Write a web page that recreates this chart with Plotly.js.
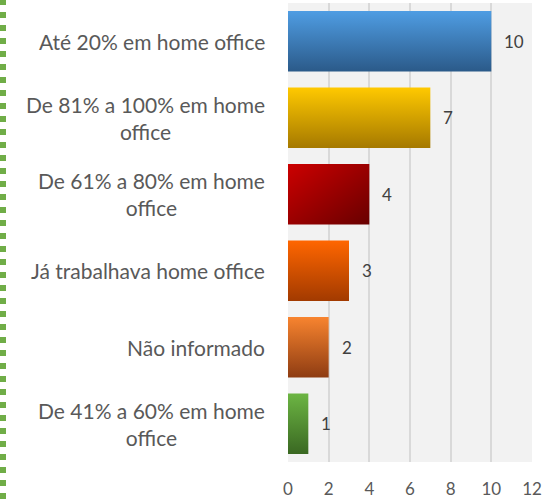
<!DOCTYPE html>
<html><head><meta charset="utf-8">
<script src="https://cdn.plot.ly/plotly-3.0.1.min.js"></script>
<style>html,body{margin:0;padding:0;background:#fff;}#chart{width:542px;height:499px;}</style>
</head><body>
<div id="chart"></div>
<script>
var categories = ["Até 20% em home office", "De 81% a 100% em home<br>office", "De 61% a 80% em home<br>office", "Já trabalhava home office", "Não informado", "De 41% a 60% em home<br>office"];
var values = [10, 7, 4, 3, 2, 1];
var barColors = ["#3d7dbf", "#d9a300", "#a00000", "#d95000", "#c9601f", "#559232"];
var gradTop = ["#4f9de3", "#ffc900", "#cc0000", "#ff6600", "#f8842f", "#6cb543"];
var gradBottom = ["#2b5a89", "#a57900", "#680000", "#a23a00", "#8e3c12", "#3a6822"];
var xTicks = [0, 2, 4, 6, 8, 10, 12];

var fontFam = "Lato, 'Open Sans', sans-serif";
var annotations = [];
categories.forEach(function(c, i){
  annotations.push({x:0, xref:'paper', y:c, yref:'y', text:c, showarrow:false, xanchor:'right', xshift:-21, align:'center', font:{family:fontFam, size:21, color:'#595959'}});
  annotations.push({x:values[i], xref:'x', y:c, yref:'y', text:String(values[i]), showarrow:false, xanchor:'left', xshift:11, font:{family:fontFam, size:17, color:'#404040'}});
});

var data = [{type:'bar', orientation:'h', x:values, y:categories, marker:{color:barColors, line:{width:0}}, hoverinfo:'none'}];
var layout = {
  width:542, height:499,
  margin:{l:288, r:10, t:3, b:37, pad:0},
  paper_bgcolor:'#ffffff', plot_bgcolor:'#f2f2f2',
  bargap:0.21, showlegend:false,
  xaxis:{range:[0,12], tickvals:xTicks, ticktext:xTicks.map(String), showgrid:true, gridcolor:'#d9d9d9', gridwidth:2, zeroline:false, showline:false, ticks:'', ticklabelstandoff:15, tickfont:{family:fontFam, size:17, color:'#595959'}, fixedrange:true},
  yaxis:{type:'category', autorange:'reversed', showticklabels:false, showgrid:false, zeroline:false, showline:false, ticks:'', fixedrange:true},
  annotations:annotations,
  shapes:[{type:'line', xref:'paper', yref:'paper', x0:-285/244, x1:-285/244, y0:-37/459, y1:1+3/459, line:{color:'#70ad47', width:6, dash:'6px,7px'}}]
};
Plotly.newPlot('chart', data, layout, {displayModeBar:false, staticPlot:true}).then(function(){
  var svg = document.querySelector('#chart .main-svg');
  var ns = 'http://www.w3.org/2000/svg';
  var defs = document.createElementNS(ns, 'defs');
  gradTop.forEach(function(t, i){
    var g = document.createElementNS(ns, 'linearGradient');
    g.setAttribute('id', 'bg' + i);
    g.setAttribute('x1', '0'); g.setAttribute('y1', '0');
    if (i === 2) { g.setAttribute('x2', '1'); g.setAttribute('y2', '1'); }
    else { g.setAttribute('x2', '0'); g.setAttribute('y2', '1'); }
    var s1 = document.createElementNS(ns, 'stop'); s1.setAttribute('offset', '0'); s1.setAttribute('stop-color', t);
    var s2 = document.createElementNS(ns, 'stop'); s2.setAttribute('offset', '1'); s2.setAttribute('stop-color', gradBottom[i]);
    g.appendChild(s1); g.appendChild(s2); defs.appendChild(g);
  });
  svg.insertBefore(defs, svg.firstChild);
  var paths = document.querySelectorAll('#chart .trace.bars .point path');
  paths.forEach(function(p, i){ p.style.fill = 'url(#bg' + i + ')'; });
});
</script>
</body></html>
